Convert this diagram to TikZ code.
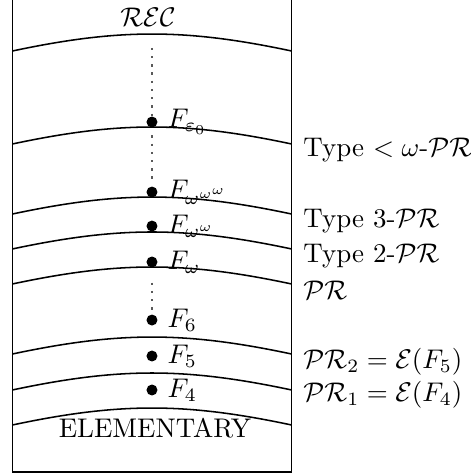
\documentclass[tikz,border=0pt]{standalone}
\usepackage{amsmath}
\usetikzlibrary{positioning}

\begin{document}
\begin{tikzpicture}[
  every node/.append style={scale=1.05},
  wall/.style={semithick},
  layer/.style={semithick, bend left=12},
  dot/.style={circle, fill, inner sep=0pt, minimum size=0.143cm},
  gap/.style={black!65, line width=0.9pt, dash pattern=on 0.9pt off 2.3pt},
  cls/.style={anchor=west}
]
\useasboundingbox (0,0) rectangle (6.43,6.484);

% the box, open at the top
\draw [wall] (0.168,6.484) -- (0.168,0.031) -- (3.990,0.031) -- (3.990,6.484);

% layers
\draw [layer] (0.168,5.786) to (3.990,5.786);
\draw [layer] (0.168,4.514) to (3.990,4.514);
\draw [layer] (0.168,3.556) to (3.990,3.556);
\draw [layer] (0.168,3.078) to (3.990,3.078);
\draw [layer] (0.168,2.599) to (3.990,2.599);
\draw [layer] (0.168,1.641) to (3.990,1.641);
\draw [layer] (0.168,1.149) to (3.990,1.149);
\draw [layer] (0.168,0.670) to (3.990,0.670);

\node (rec) at (2.025,6.251) {$\mathcal{REC}$};
\node (elem) at (2.12,0.622) {ELEMENTARY};

% functions
\node (e0) [dot] at (2.079,4.815) {};
\node (www) [dot] at (2.079,3.857) {};
\node (ww) [dot] at (2.079,3.392) {};
\node (w) [dot] at (2.079,2.900) {};
\node (f6) [dot] at (2.079,2.106) {};
\node (f5) [dot] at (2.079,1.614) {};
\node (f4) [dot] at (2.079,1.149) {};

\node [right=0pt of e0] {$F_{\varepsilon_0}$};
\node [right=0pt of www] {$F_{\omega^{\omega^\omega}}$};
\node [right=0pt of ww] {$F_{\omega^\omega}$};
\node [right=0pt of w] {$F_\omega$};
\node [right=0pt of f6] {$F_6$};
\node [right=0pt of f5] {$F_5$};
\node [right=0pt of f4] {$F_4$};

\coordinate (top) at (2.079,5.83);
\draw [gap] (top) -- ([yshift=-0.05cm]e0.north);
\draw [gap, shorten <=0.1cm, shorten >=0.05cm] (e0) -- (www);
\draw [gap, shorten <=0.2cm, shorten >=0.05cm] (w) -- (f6);

% classes
\node [cls] at (4.02,4.432) {Type $<\omega$-$\mathcal{PR}$};
\node [cls] at (4.02,3.461) {Type 3-$\mathcal{PR}$};
\node [cls] at (4.02,2.982) {Type 2-$\mathcal{PR}$};
\node [cls] at (4.02,2.517) {$\mathcal{PR}$};
\node [cls] at (4.02,1.532) {$\mathcal{PR}_2=\mathcal{E}(F_5)$};
\node [cls] at (4.02,1.081) {$\mathcal{PR}_1=\mathcal{E}(F_4)$};

\end{tikzpicture}
\end{document}
